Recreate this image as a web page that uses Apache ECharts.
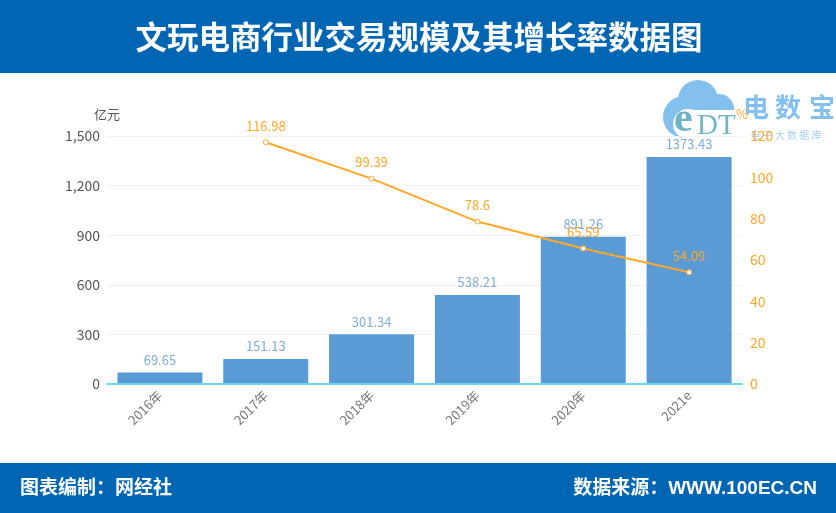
<!DOCTYPE html>
<html>
<head>
<meta charset="utf-8">
<style>
  html, body { margin: 0; padding: 0; background: #fff; }
  #chart { width: 836px; height: 513px; }
</style>
<script src="https://cdn.jsdelivr.net/npm/echarts@6/dist/echarts.min.js"></script>
</head>
<body>
<div id="chart"></div>
<script>
const categories = ["2016年", "2017年", "2018年", "2019年", "2020年", "2021e"];
const scaleValues = [69.65, 151.13, 301.34, 538.21, 891.26, 1373.43];
const growthValues = [null, 116.98, 99.39, 78.6, 65.59, 54.09];

const titleText = "文玩电商行业交易规模及其增长率数据图";
const footerLeft = "图表编制：网经社";
const footerRight = "数据来源：WWW.100EC.CN";

const fontCJK = '"Noto Sans CJK SC", "Noto Sans", sans-serif';
const fontFooter = '"Liberation Sans", "Noto Sans CJK SC", sans-serif';
const bandColor = "#0066b3";
const barColor = "#5b9bd5";
const lineColor = "#ffa726";
const logoColor = "#84c0ee";

const myChart = echarts.init(document.getElementById("chart"), null, { renderer: "canvas" });

//header, footer and watermark logo
const graphics = [
    { type: "rect", z: 0, shape: { x: 0, y: 0, width: 836, height: 73 }, style: { fill: bandColor } },
    { type: "rect", z: 0, shape: { x: 0, y: 463, width: 836, height: 50 }, style: { fill: bandColor } },
    { type: "text", z: 1, x: 419, y: 37, style: { text: titleText, fill: "#fff", font: "bold 31.5px " + fontCJK, textAlign: "center", textVerticalAlign: "middle" } },
    { type: "text", z: 1, x: 20, y: 489, style: { text: footerLeft, fill: "#fff", font: "bold 19px " + fontFooter, textAlign: "left", textVerticalAlign: "middle" } },
    { type: "text", z: 1, x: 817, y: 489, style: { text: footerRight, fill: "#fff", font: "bold 19px " + fontFooter, textAlign: "right", textVerticalAlign: "middle" } },

    //cloud
    { type: "circle", z: 1, shape: { cx: 684, cy: 117, r: 21 }, style: { fill: logoColor } },
    { type: "circle", z: 1, shape: { cx: 698, cy: 100, r: 20 }, style: { fill: logoColor } },
    { type: "circle", z: 1, shape: { cx: 719, cy: 109, r: 15 }, style: { fill: logoColor } },
    { type: "circle", z: 1, shape: { cx: 688, cy: 124, r: 15 }, style: { fill: "#fff" } },
    { type: "rect", z: 1, shape: { x: 688, y: 110, width: 50, height: 32 }, style: { fill: "#fff" } },
    { type: "text", z: 2, x: 674, y: 120, style: { text: "e", fill: "#6fb4c8", font: "bold 42px 'Liberation Serif', serif", textAlign: "left", textVerticalAlign: "middle" } },
    { type: "text", z: 2, x: 697, y: 126, style: { text: "DT", fill: "#6fb4c8", font: "29px 'Liberation Serif', serif", textAlign: "left", textVerticalAlign: "middle" } },
    { type: "text", z: 2, x: 756, y: 107, style: { text: "电", fill: logoColor, font: "bold 26px " + fontCJK, textAlign: "center", textVerticalAlign: "middle" } },
    { type: "text", z: 2, x: 788, y: 107, style: { text: "数", fill: logoColor, font: "bold 26px " + fontCJK, textAlign: "center", textVerticalAlign: "middle" } },
    { type: "text", z: 2, x: 822, y: 107, style: { text: "宝", fill: logoColor, font: "bold 26px " + fontCJK, textAlign: "center", textVerticalAlign: "middle" } },
    { type: "text", z: 2, x: 786, y: 135, style: { text: "电 子 大 数 据 库", fill: "#a9cfec", font: "10px " + fontCJK, textAlign: "center", textVerticalAlign: "middle" } }
];

let option = {
    animation: false,
    grid: { left: 107, right: 94, top: 136, bottom: 129 },
    graphic: graphics,
    xAxis: {
        type: "category",
        z: 14,
        data: categories,
        axisLine: { lineStyle: { color: "#66d8f0", width: 2 } },
        axisTick: { show: false },
        axisLabel: { rotate: 45, color: "#777", fontSize: 13, fontFamily: fontCJK, margin: 9 }
    },
    yAxis: [
        {
            type: "value",
            z: 11,
            name: "亿元",
            nameGap: 15,
            nameTextStyle: { color: "#555", fontSize: 13, fontFamily: fontCJK, align: "right", padding: [0, -13, 0, 0] },
            min: 0,
            max: 1500,
            interval: 300,
            axisLine: { show: false },
            axisTick: { show: false },
            axisLabel: { color: "#555", fontSize: 14, fontFamily: fontCJK, margin: 7, formatter: (v) => v.toLocaleString("en-US") },
            splitLine: { lineStyle: { color: "#f1f1f1" } }
        },
        {
            type: "value",
            z: 11,
            name: "%",
            nameGap: 15,
            nameTextStyle: { color: lineColor, fontSize: 13, fontFamily: fontCJK, align: "left", padding: [0, 0, 0, -6] },
            min: 0,
            max: 120,
            interval: 20,
            axisLine: { show: false },
            axisTick: { show: false },
            axisLabel: { color: lineColor, fontSize: 14, fontFamily: fontCJK, margin: 8 },
            splitLine: { show: false }
        }
    ],
    series: [
        {
            name: "交易规模",
            type: "bar",
            z: 12,
            data: scaleValues,
            barWidth: 85,
            itemStyle: { color: barColor },
            label: { show: true, position: "top", color: "#7fadd9", fontSize: 13, fontFamily: fontCJK, distance: 6 }
        },
        {
            name: "增长率",
            type: "line",
            z: 13,
            yAxisIndex: 1,
            data: growthValues,
            symbol: "circle",
            symbolSize: 5,
            showAllSymbols: true,
            lineStyle: { color: lineColor, width: 2 },
            itemStyle: { color: "#fff", borderColor: lineColor, borderWidth: 1 },
            label: { show: true, position: "top", color: lineColor, fontSize: 13, fontFamily: fontCJK, distance: 7 }
        }
    ]
};

myChart.setOption(option);
</script>
</body>
</html>
